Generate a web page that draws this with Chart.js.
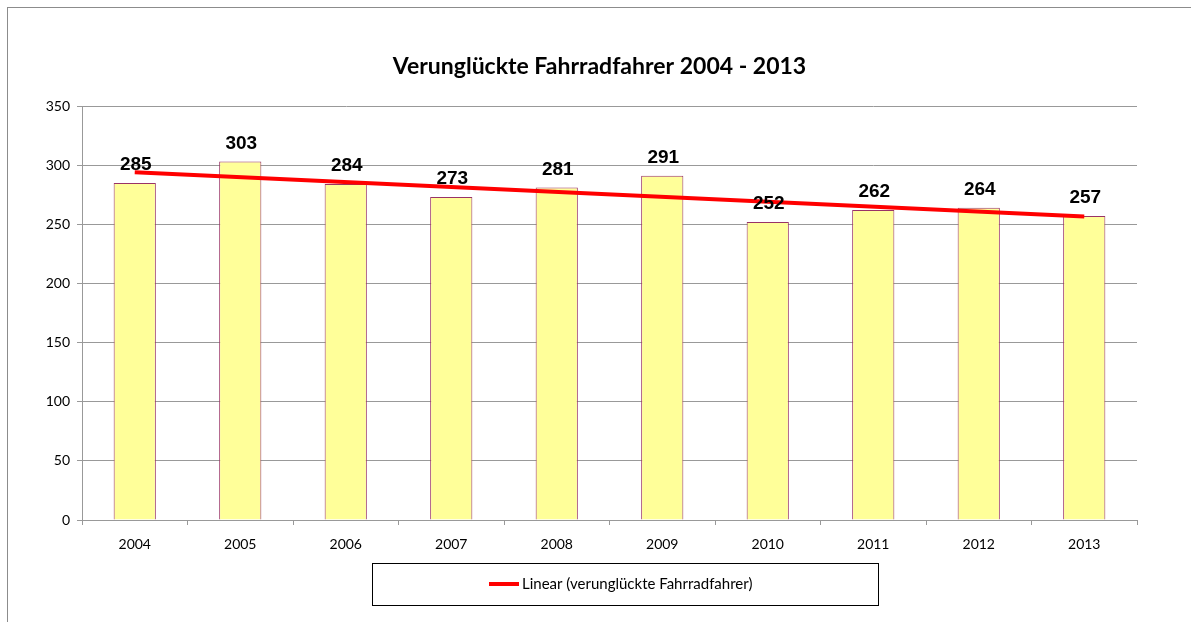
<!DOCTYPE html>
<html>
<head>
<meta charset="utf-8">
<title>Verunglückte Fahrradfahrer</title>
<script src="https://cdn.jsdelivr.net/npm/chart.js@4.4.1/dist/chart.umd.min.js"></script>
<style>
    body { margin: 0; background: #fff; }
    #wrap { position: relative; width: 1191px; height: 622px; overflow: hidden; }
    #frame { position: absolute; left: 7px; top: 7px; width: 1200px; height: 640px; border: 1px solid #8c8c8c; }
    #chart { position: absolute; left: 0; top: 0; }
</style>
</head>
<body>
<div id="wrap">
    <div id="frame"></div>
    <canvas id="chart" width="1191" height="622"></canvas>
</div>
<script>
const years = ["2004", "2005", "2006", "2007", "2008", "2009", "2010", "2011", "2012", "2013"];
const accidents = [285, 303, 284, 273, 281, 291, 252, 262, 264, 257];
// trend line: start and end only
const trend = [294, null, null, null, null, null, null, null, null, 256.5];
const yTicks = [0, 50, 100, 150, 200, 250, 300, 350];
const chartTitle = "Verunglückte Fahrradfahrer 2004 - 2013";

const labelFont = "bold 19px 'Liberation Sans', Arial, sans-serif";
const textFont = "Lato, 'Open Sans', sans-serif";

// title centred on the whole frame, not on the plot
const titlePlugin = {
    id: "titlePlugin",
    afterDraw: function (chart) {
        const ctx = chart.ctx;
        ctx.save();
        ctx.font = "bold 23px " + textFont;
        ctx.fillStyle = "#000";
        ctx.textAlign = "center";
        ctx.textBaseline = "alphabetic";
        ctx.fillText(chartTitle, chart.width / 2 + 4, chart.chartArea.top - 32);
        ctx.restore();
    }
};

// numbers above the bars
const barLabels = {
    id: "barLabels",
    afterDatasetsDraw: function (chart) {
        const ctx = chart.ctx;
        const meta = chart.getDatasetMeta(0);
        ctx.save();
        ctx.font = labelFont;
        ctx.fillStyle = "#000";
        ctx.textAlign = "center";
        ctx.textBaseline = "alphabetic";
        meta.data.forEach((bar, i) => {
            ctx.fillText(accidents[i], bar.x + 1, bar.y - 13);
        });
        ctx.restore();
    }
};

// boxed legend below the axis
const legendBox = {
    id: "legendBox",
    afterDraw: function (chart) {
        const ctx = chart.ctx;
        const area = chart.chartArea;
        const left = area.left + 290;
        const right = area.left + 796;
        const top = area.bottom + 43;
        const bottom = area.bottom + 85;
        ctx.save();
        ctx.strokeStyle = "#000";
        ctx.lineWidth = 1;
        ctx.strokeRect(left + 0.5, top + 0.5, right - left, bottom - top);

        const ds = chart.data.datasets[1];
        const mid = (top + bottom) / 2;
        ctx.strokeStyle = ds.borderColor;
        ctx.lineWidth = 4;
        ctx.beginPath();
        ctx.moveTo(left + 117, mid);
        ctx.lineTo(left + 147, mid);
        ctx.stroke();

        ctx.fillStyle = "#000";
        ctx.font = "15px " + textFont;
        ctx.textBaseline = "middle";
        ctx.fillText(ds.label, left + 150, mid);
        ctx.restore();
    }
};

const chart = new Chart(document.querySelector("#chart"), {
    data: {
        labels: years,
        datasets: [
            {
                type: "bar",
                label: "verunglückte Fahrradfahrer",
                data: accidents,
                backgroundColor: "#FFFF99",
                borderColor: "#993366",
                borderWidth: 1,
                barPercentage: 0.4,
                categoryPercentage: 1,
                order: 2
            },
            {
                type: "line",
                label: "Linear (verunglückte Fahrradfahrer)",
                data: trend,
                borderColor: "#FF0000",
                borderWidth: 4,
                pointRadius: 0,
                spanGaps: true,
                fill: false,
                order: 1
            }
        ]
    },
    options: {
        responsive: false,
        animation: false,
        layout: {
            padding: { left: 0, right: 54, top: 106, bottom: 62 }
        },
        plugins: {
            legend: { display: false },
            tooltip: { enabled: false },
            title: { display: false }
        },
        scales: {
            x: {
                offset: true,
                grid: {
                    offset: true,
                    drawOnChartArea: false,
                    drawTicks: true,
                    tickLength: 5,
                    color: "#999"
                },
                border: { color: "#999" },
                ticks: {
                    color: "#000",
                    font: { family: textFont, size: 14 },
                    padding: 11,
                    maxRotation: 0
                },
                afterFit: function (scale) { scale.height = 40; }
            },
            y: {
                min: 0,
                max: 350,
                afterBuildTicks: function (scale) {
                    scale.ticks = yTicks.map(v => ({ value: v }));
                },
                grid: {
                    color: "#999",
                    tickLength: 5
                },
                border: { color: "#999" },
                ticks: {
                    color: "#000",
                    font: { family: textFont, size: 14 },
                    padding: 7
                },
                afterFit: function (scale) { scale.width = 82; }
            }
        }
    },
    plugins: [titlePlugin, barLabels, legendBox]
});
</script>
</body>
</html>
